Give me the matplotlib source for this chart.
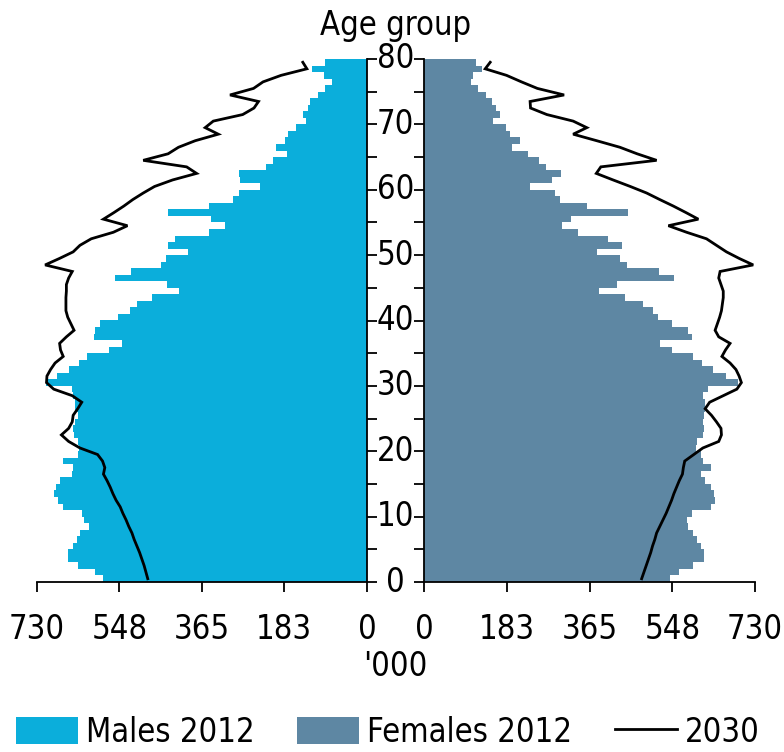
import os
import numpy as np
import matplotlib
matplotlib.use('Agg')
import matplotlib.pyplot as plt
from matplotlib import font_manager as fm
from matplotlib import transforms
from matplotlib.patches import Patch
from matplotlib.lines import Line2D

# ---------------- data ----------------
ages = list(range(80))

males_2012 = [583, 602, 639, 661, 661, 650, 642, 635, 616, 626,
              631, 672, 683, 692, 688, 680, 653, 651, 672, 640,
              636, 640, 648, 650, 645, 640, 645, 645, 650, 653,
              711, 685, 660, 638, 620, 570, 543, 603, 602, 590,
              550, 524, 509, 476, 415, 443, 557, 522, 456, 444,
              395, 440, 424, 349, 314, 346, 440, 349, 297, 283,
              236, 281, 283, 223, 208, 177, 201, 181, 174, 157,
              134, 141, 130, 125, 108, 92, 77, 96, 121, 92]

females_2012 = [542, 563, 594, 618, 618, 612, 601, 594, 583, 579,
                590, 634, 642, 640, 634, 619, 612, 632, 616, 612,
                600, 601, 615, 618, 616, 618, 620, 619, 616, 627,
                693, 667, 637, 614, 594, 548, 520, 590, 583, 548,
                515, 506, 482, 443, 387, 425, 551, 519, 447, 432,
                381, 436, 406, 340, 304, 325, 449, 360, 300, 290,
                234, 283, 303, 268, 253, 229, 193, 212, 189, 181,
                152, 168, 158, 150, 136, 120, 104, 107, 128, 115]

males_2030 = [485, 489, 493, 498, 503, 509, 515, 520, 527, 533,
              540, 546, 555, 562, 568, 575, 583, 580, 585, 596,
              635, 660, 676, 660, 652, 650, 640, 631, 652, 693,
              709, 708, 700, 690, 672, 678, 680, 665, 648, 655,
              662, 666, 666, 666, 665, 665, 660, 652, 712, 680,
              650, 635, 610, 561, 530, 583, 560, 538, 518, 495,
              470, 430, 377, 399, 495, 440, 417, 380, 329, 358,
              340, 275, 250, 240, 303, 251, 230, 190, 133, 142]

females_2030 = [480, 485, 490, 495, 500, 504, 509, 513, 520, 527,
                534, 540, 546, 551, 557, 563, 570, 572, 575, 595,
                615, 650, 656, 655, 645, 634, 620, 630, 660, 690,
                700, 695, 688, 675, 657, 665, 675, 650, 642, 647,
                652, 656, 658, 660, 660, 655, 650, 653, 726, 695,
                667, 645, 623, 579, 539, 605, 578, 550, 520, 491,
                455, 417, 380, 390, 513, 470, 432, 381, 329, 359,
                329, 271, 235, 234, 309, 250, 215, 182, 135, 146]

x_ticks = [0, 183, 365, 548, 730]
age_ticks = list(range(0, 81, 10))
age_minor_ticks = list(range(0, 81, 5))
legend_labels = ['Males 2012', 'Females 2012', '2030']
title_text = 'Age group'
unit_text = "'000"

# ---------------- style ----------------
male_color = '#0BAEDB'
female_color = '#5E87A3'
W, H = 784, 752


def pick_font():
    for f in fm.fontManager.ttflist:
        if os.path.basename(f.fname).lower() == 'dejavusanscondensed.ttf':
            return f.fname
    for f in fm.fontManager.ttflist:
        if f.name == 'Liberation Sans Narrow' and f.style == 'normal' and f.weight in (400, 'normal', 'regular'):
            return f.fname
    return fm.findfont('DejaVu Sans')


font_path = pick_font()
FS = 23.5
fp = fm.FontProperties(fname=font_path, size=FS)

fig = plt.figure(figsize=(W / 100, H / 100), dpi=100)
fig.patch.set_facecolor('white')

bottom = 170 / H
height = 523 / H
axL = fig.add_axes([37 / W, bottom, 330 / W, height])
axR = fig.add_axes([424 / W, bottom, 331 / W, height])

centers = np.array(ages) + 0.5

axL.barh(ages, males_2012, height=1.0, align='edge', color=male_color, linewidth=0)
axL.plot(males_2030, centers, color='black', lw=2.0, solid_joinstyle='miter')
axR.barh(ages, females_2012, height=1.0, align='edge', color=female_color, linewidth=0)
axR.plot(females_2030, centers, color='black', lw=2.0, solid_joinstyle='miter')

axL.set_xlim(730, 0)
axR.set_xlim(0, 730)
for ax in (axL, axR):
    ax.set_ylim(0, 80)
    ax.set_facecolor('white')
    for s in ax.spines.values():
        s.set_linewidth(1.3)
        s.set_color('black')
    ax.spines['top'].set_visible(False)
    ax.set_xticks(x_ticks)
    ax.set_xticklabels([str(v) for v in x_ticks], fontproperties=fp)
    ax.tick_params(axis='x', direction='out', length=7.5, width=1.3, pad=15, colors='black')
    ax.set_yticks(age_minor_ticks)
    ax.set_yticklabels([])
    ax.tick_params(axis='y', direction='out', length=7.5, width=1.3)

axL.spines['left'].set_visible(False)
axL.yaxis.tick_right()
axR.spines['right'].set_visible(False)
axR.yaxis.tick_left()

trans = transforms.blended_transform_factory(fig.transFigure, axL.transData)
for a in age_ticks:
    axL.text(395.5 / W, a, str(a), transform=trans, ha='center', va='center',
             fontproperties=fp, clip_on=False)

fig.text(396 / W, 1 - 25 / H, title_text, ha='center', va='center', fontproperties=fp)
fig.text(395.5 / W, 1 - 667 / H, unit_text, ha='center', va='center', fontproperties=fp)

handles = [Patch(facecolor=male_color, edgecolor='none'),
           Patch(facecolor=female_color, edgecolor='none'),
           Line2D([0], [0], color='black', lw=2.0)]
fig.legend(handles, legend_labels, loc='center', bbox_to_anchor=(388 / W, 1 - 732 / H),
           ncol=3, frameon=False, prop=fp, handlelength=1.9, handleheight=0.9,
           handletextpad=0.25, columnspacing=1.3, borderaxespad=0)

fig.savefig('out.png', dpi=100, facecolor='white')
